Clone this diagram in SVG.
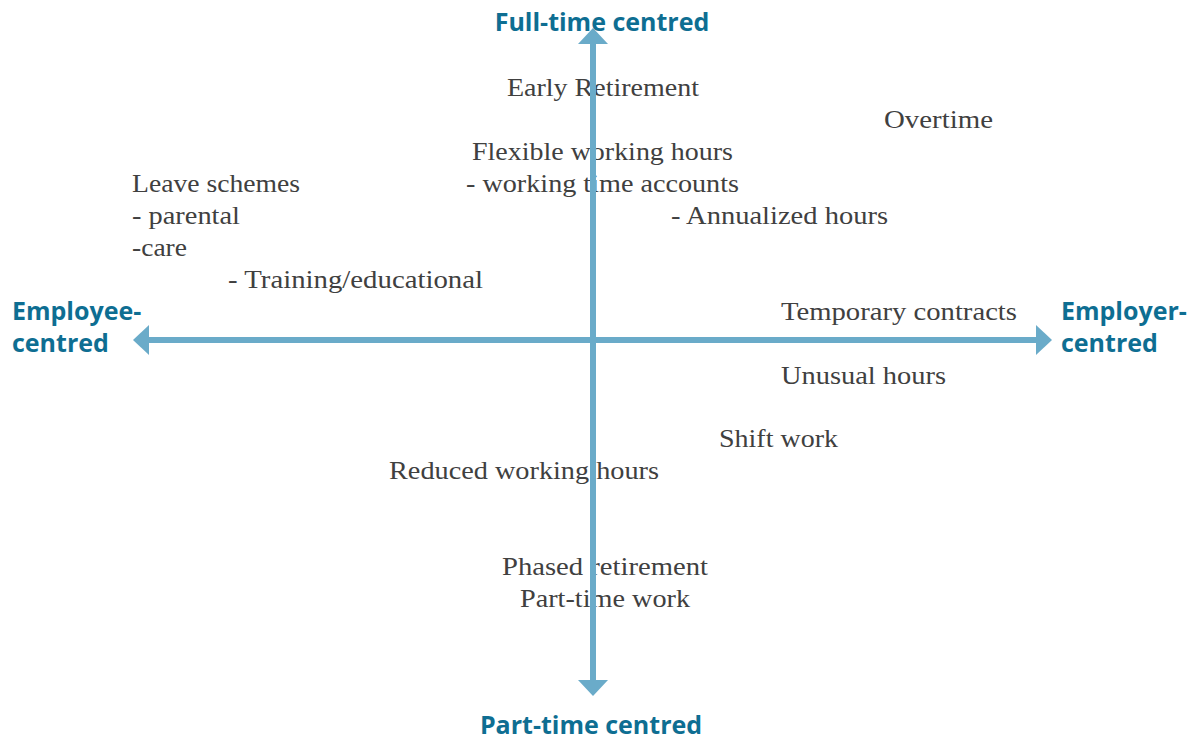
<svg xmlns="http://www.w3.org/2000/svg" width="1195" height="739" viewBox="0 0 1195 739">
<style>
.t{font-family:"Liberation Serif",serif;font-size:25px;fill:#404040}
.a{font-family:"Open Sans","Liberation Sans",sans-serif;font-weight:bold;font-size:25px;fill:#0e6e92}
.ax{stroke:#6aabc9;stroke-width:6;fill:none}
</style>
<defs>
<marker id="ah" viewBox="0 0 16 30" refX="0" refY="15" markerWidth="16" markerHeight="30" markerUnits="userSpaceOnUse" orient="auto">
<path d="M0,0 L16,15 L0,30 Z" fill="#6aabc9"/>
</marker>
</defs>
<rect width="1195" height="739" fill="#fff"/>
<g id="items">
<g id="early-retirement"><text class="t" x="507" y="96" textLength="192" lengthAdjust="spacingAndGlyphs">Early Retirement</text></g>
<g id="overtime"><text class="t" x="884" y="128" textLength="109" lengthAdjust="spacingAndGlyphs">Overtime</text></g>
<g id="flexible"><text class="t" x="472" y="160" textLength="261" lengthAdjust="spacingAndGlyphs">Flexible working hours</text><text class="t" x="466" y="192" textLength="273" lengthAdjust="spacingAndGlyphs">- working time accounts</text><text class="t" x="671" y="224" textLength="217" lengthAdjust="spacingAndGlyphs">- Annualized hours</text></g>
<g id="leave"><text class="t" x="132" y="192" textLength="168" lengthAdjust="spacingAndGlyphs">Leave schemes</text><text class="t" x="132" y="224" textLength="108" lengthAdjust="spacingAndGlyphs">- parental</text><text class="t" x="132" y="256" textLength="55" lengthAdjust="spacingAndGlyphs">-care</text><text class="t" x="228" y="288" textLength="255" lengthAdjust="spacingAndGlyphs">- Training/educational</text></g>
<g id="temporary"><text class="t" x="781" y="320" textLength="236" lengthAdjust="spacingAndGlyphs">Temporary contracts</text></g>
<g id="unusual"><text class="t" x="781" y="384" textLength="165" lengthAdjust="spacingAndGlyphs">Unusual hours</text></g>
<g id="shift"><text class="t" x="719" y="447" textLength="119" lengthAdjust="spacingAndGlyphs">Shift work</text></g>
<g id="reduced"><text class="t" x="389" y="479" textLength="270" lengthAdjust="spacingAndGlyphs">Reduced working hours</text></g>
<g id="phased"><text class="t" x="502" y="575" textLength="206" lengthAdjust="spacingAndGlyphs">Phased retirement</text><text class="t" x="520" y="607" textLength="170" lengthAdjust="spacingAndGlyphs">Part-time work</text></g>
</g>
<g id="connectors">
<line class="ax" x1="593" y1="340" x2="593" y2="44" marker-end="url(#ah)"/>
<line class="ax" x1="593" y1="340" x2="593" y2="680" marker-end="url(#ah)"/>
<line class="ax" x1="593" y1="340" x2="149" y2="340" marker-end="url(#ah)"/>
<line class="ax" x1="593" y1="340" x2="1036" y2="340" marker-end="url(#ah)"/>
</g>
<g id="labels">
<g id="full-time"><text class="a" x="602" y="31" text-anchor="middle">Full-time centred</text></g>
<g id="part-time"><text class="a" x="591" y="734" text-anchor="middle">Part-time centred</text></g>
<g id="employee"><text class="a" x="12" y="320">Employee-</text><text class="a" x="12" y="352">centred</text></g>
<g id="employer"><text class="a" x="1061" y="320">Employer-</text><text class="a" x="1061" y="352">centred</text></g>
</g>
</svg>
